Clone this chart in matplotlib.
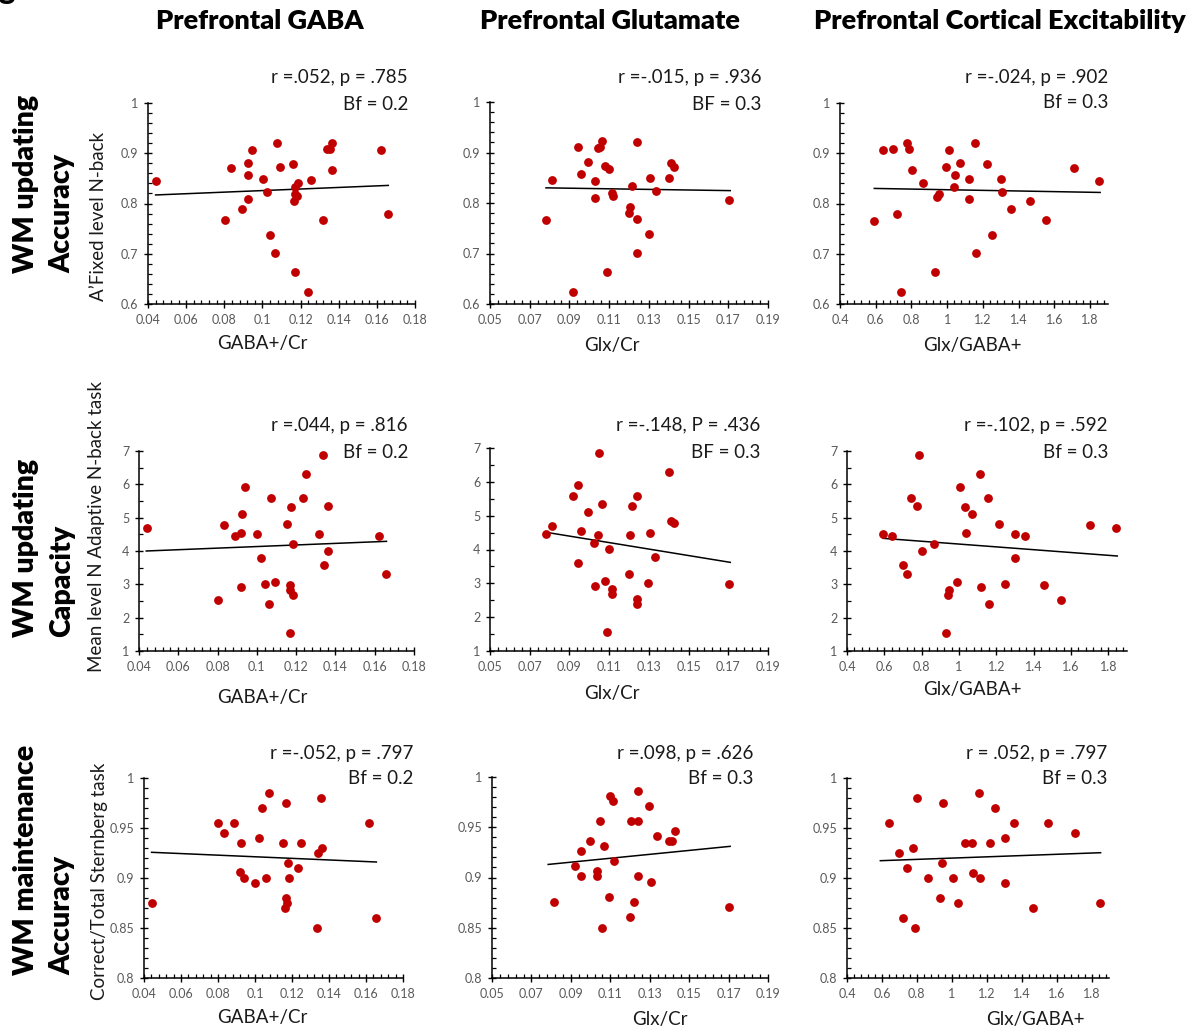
import matplotlib
matplotlib.use("Agg")
import matplotlib.pyplot as plt
from matplotlib.ticker import MultipleLocator, FuncFormatter

plt.rcParams['font.family'] = ['Lato', 'DejaVu Sans']

W, H = 1202, 1036

# ---------------- data ----------------
col_titles = ["Prefrontal GABA", "Prefrontal Glutamate", "Prefrontal Cortical Excitability"]
x_labels = ["GABA+/Cr", "Glx/Cr", "Glx/GABA+"]
y_labels = ["A\u2019Fixed level N-back", "Mean level N Adaptive N-back task", "Correct/Total Sternberg task"]
row_labels = [("WM updating", "Accuracy"), ("WM updating", "Capacity"), ("WM maintenance", "Accuracy")]

stats_line1 = [["r =.052, p = .785", "r =-.015, p = .936", "r =-.024, p = .902"],
               ["r =.044, p = .816", "r =-.148, P = .436", "r =-.102, p = .592"],
               ["r =-.052, p = .797", "r =.098, p = .626", "r = .052, p = .797"]]
stats_line2 = [["Bf = 0.2", "BF = 0.3", "Bf = 0.3"],
               ["Bf = 0.2", "BF = 0.3", "Bf = 0.3"],
               ["Bf = 0.2", "Bf = 0.3", "Bf = 0.3"]]

# Row 1: A' fixed level N-back
gaba_acc_x = [0.0444, 0.0803, 0.0835, 0.0891, 0.0923, 0.0923, 0.0926, 0.0944, 0.1005, 0.1023,
              0.1040, 0.1067, 0.1074, 0.1093, 0.1158, 0.1170, 0.1168, 0.1172, 0.1172, 0.1182,
              0.1186, 0.1237, 0.1254, 0.1319, 0.1338, 0.1352, 0.1365, 0.1365, 0.1624, 0.1658]
gaba_acc_y = [0.844, 0.768, 0.870, 0.790, 0.808, 0.856, 0.880, 0.907, 0.849, 0.823,
              0.737, 0.701, 0.920, 0.873, 0.879, 0.663, 0.804, 0.819, 0.832, 0.815,
              0.841, 0.624, 0.847, 0.767, 0.909, 0.908, 0.920, 0.866, 0.907, 0.780]
glx_acc_x = [0.0782, 0.0811, 0.0920, 0.0945, 0.0960, 0.0994, 0.1028, 0.1031, 0.1043, 0.1055,
             0.1065, 0.1078, 0.1090, 0.1098, 0.1113, 0.1117, 0.1199, 0.1206, 0.1216, 0.1239,
             0.1239, 0.1242, 0.1300, 0.1307, 0.1334, 0.1401, 0.1411, 0.1428, 0.1705]
glx_acc_y = [0.766, 0.846, 0.624, 0.910, 0.858, 0.881, 0.843, 0.809, 0.909, 0.911,
             0.922, 0.874, 0.663, 0.868, 0.819, 0.813, 0.781, 0.792, 0.834, 0.921,
             0.701, 0.769, 0.738, 0.850, 0.824, 0.849, 0.880, 0.872, 0.806]
ratio_acc_x = [0.592, 0.639, 0.699, 0.721, 0.743, 0.777, 0.786, 0.803, 0.867, 0.934,
               0.945, 0.953, 0.992, 1.009, 1.037, 1.042, 1.074, 1.121, 1.122, 1.156,
               1.163, 1.221, 1.251, 1.302, 1.305, 1.358, 1.466, 1.552, 1.712, 1.852]
ratio_acc_y = [0.766, 0.907, 0.908, 0.780, 0.624, 0.920, 0.909, 0.866, 0.841, 0.663,
               0.813, 0.819, 0.873, 0.907, 0.832, 0.856, 0.880, 0.848, 0.808, 0.920,
               0.701, 0.879, 0.737, 0.849, 0.823, 0.790, 0.804, 0.768, 0.870, 0.844]

# Row 2: mean level N adaptive N-back
gaba_cap_x = [0.0441, 0.0802, 0.0833, 0.0889, 0.0920, 0.0921, 0.0923, 0.0940, 0.1001, 0.1023,
              0.1040, 0.1064, 0.1071, 0.1091, 0.1156, 0.1167, 0.1167, 0.1167, 0.1174, 0.1183,
              0.1186, 0.1234, 0.1251, 0.1317, 0.1335, 0.1342, 0.1363, 0.1364, 0.1621, 0.1658]
gaba_cap_y = [4.68, 2.53, 4.78, 4.45, 2.91, 4.54, 5.12, 5.93, 4.50, 3.78,
              3.02, 2.40, 5.59, 3.06, 4.82, 2.98, 2.82, 1.54, 5.31, 2.68,
              4.21, 5.59, 6.31, 4.50, 6.88, 3.57, 4.01, 5.35, 4.45, 3.30]
glx_cap_x = [0.0781, 0.0811, 0.0917, 0.0944, 0.0944, 0.0959, 0.0992, 0.1026, 0.1028, 0.1043,
             0.1051, 0.1063, 0.1078, 0.1090, 0.1097, 0.1113, 0.1115, 0.1199, 0.1204, 0.1213,
             0.1238, 0.1239, 0.1239, 0.1298, 0.1305, 0.1332, 0.1399, 0.1411, 0.1428, 0.1703]
glx_cap_y = [4.47, 4.68, 5.59, 5.91, 3.59, 4.54, 5.10, 4.19, 2.91, 4.43,
             6.86, 5.34, 3.06, 1.55, 4.01, 2.82, 2.68, 3.29, 4.43, 5.29,
             5.59, 2.54, 2.39, 3.02, 4.48, 3.77, 6.30, 4.84, 4.78, 2.97]
ratio_cap_x = [0.593, 0.641, 0.700, 0.719, 0.742, 0.775, 0.785, 0.803, 0.864, 0.930,
               0.940, 0.949, 0.989, 1.005, 1.031, 1.038, 1.069, 1.115, 1.119, 1.153,
               1.162, 1.215, 1.244, 1.299, 1.299, 1.352, 1.458, 1.547, 1.704, 1.843]
ratio_cap_y = [4.50, 4.45, 3.58, 3.30, 5.58, 5.35, 6.88, 4.01, 4.20, 1.54,
               2.68, 2.82, 3.06, 5.93, 5.31, 4.54, 5.12, 6.30, 2.91, 5.58,
               2.40, 4.82, 3.02, 4.50, 3.78, 4.45, 2.97, 2.53, 4.78, 4.68]

# Row 3: Sternberg accuracy
gaba_mnt_x = [0.0441, 0.0801, 0.0834, 0.0888, 0.0918, 0.0924, 0.0938, 0.1001, 0.1019, 0.1037,
              0.1062, 0.1073, 0.1154, 0.1165, 0.1165, 0.1172, 0.1163, 0.1179, 0.1186, 0.1231,
              0.1249, 0.1336, 0.1341, 0.1361, 0.1359, 0.1617, 0.1656]
gaba_mnt_y = [0.875, 0.955, 0.945, 0.955, 0.906, 0.935, 0.900, 0.895, 0.940, 0.970,
              0.900, 0.985, 0.935, 0.975, 0.880, 0.875, 0.870, 0.915, 0.900, 0.910,
              0.935, 0.850, 0.925, 0.930, 0.980, 0.955, 0.860]
glx_mnt_x = [0.0817, 0.0922, 0.0949, 0.0951, 0.0995, 0.1032, 0.1032, 0.1046, 0.1056, 0.1066,
             0.1093, 0.1100, 0.1114, 0.1119, 0.1200, 0.1205, 0.1220, 0.1241, 0.1242, 0.1241,
             0.1297, 0.1307, 0.1336, 0.1400, 0.1412, 0.1427, 0.1703]
glx_mnt_y = [0.876, 0.911, 0.926, 0.901, 0.936, 0.906, 0.901, 0.956, 0.850, 0.931,
             0.881, 0.981, 0.976, 0.916, 0.861, 0.956, 0.876, 0.986, 0.956, 0.901,
             0.971, 0.896, 0.941, 0.936, 0.936, 0.946, 0.871]
ratio_mnt_x = [0.639, 0.700, 0.721, 0.744, 0.776, 0.788, 0.803, 0.866, 0.931, 0.944,
               0.952, 1.007, 1.036, 1.074, 1.118, 1.120, 1.154, 1.162, 1.219, 1.246,
               1.303, 1.303, 1.357, 1.464, 1.548, 1.708, 1.850]
ratio_mnt_y = [0.955, 0.925, 0.860, 0.910, 0.930, 0.850, 0.980, 0.900, 0.880, 0.915,
               0.975, 0.900, 0.875, 0.935, 0.935, 0.905, 0.985, 0.900, 0.935, 0.970,
               0.940, 0.895, 0.955, 0.870, 0.955, 0.945, 0.875]

# linear trend lines (endpoints)
trend_x = [[[0.0440, 0.1660], [0.0782, 0.1710], [0.592, 1.856]],
           [[0.0437, 0.1660], [0.0781, 0.1710], [0.593, 1.848]],
           [[0.0441, 0.1656], [0.0785, 0.1708], [0.591, 1.852]]]
trend_y = [[[0.817, 0.836], [0.830, 0.8245], [0.830, 0.822]],
           [[4.00, 4.29], [4.51, 3.62], [4.38, 3.85]],
           [[0.9257, 0.916], [0.913, 0.931], [0.9173, 0.9253]]]

series_x = [[gaba_acc_x, glx_acc_x, ratio_acc_x],
            [gaba_cap_x, glx_cap_x, ratio_cap_x],
            [gaba_mnt_x, glx_mnt_x, ratio_mnt_x]]
series_y = [[gaba_acc_y, glx_acc_y, ratio_acc_y],
            [gaba_cap_y, glx_cap_y, ratio_cap_y],
            [gaba_mnt_y, glx_mnt_y, ratio_mnt_y]]

# axis settings
x_lims = [(0.04, 0.18), (0.05, 0.19), (0.4, 1.9)]
x_major = [(0.02, 0.0), (0.02, 0.01), (0.2, 0.0)]
x_minor = [(0.004, 0.0), (0.004, 0.002), (0.04, 0.0)]
y_lims = [(0.6, 1.0), (1, 7), (0.8, 1.0)]
y_major = [0.1, 1, 0.05]
y_minor = [0.02, 0.5, 0.01]

# ---------------- layout (pixel positions) ----------------
# (x0, x1, ytop, ybottom) of each axes box
boxes = [[(148, 415, 103, 304), (490, 768, 102, 304), (840, 1108, 103, 304)],
         [(139, 414, 451, 651), (490, 768, 448, 651), (847, 1127, 451, 651)],
         [(144, 403, 778, 978), (492, 768, 777, 978), (847, 1109, 778, 978)]]
stat_pos = [[(408, 78, 105), (761, 78, 104), (1108, 78, 103)],
            [(408, 425, 452), (760, 425, 452), (1108, 425, 452)],
            [(413, 753, 778), (753, 753, 778), (1107, 753, 778)]]
xlabel_pos = [[(262, 343), (612, 345), (972, 345)],
              [(262, 698), (612, 693), (972, 690)],
              [(262, 1018), (660, 1020), (1035, 1020)]]
ylabel_pos = [(98, 216), (97, 526), (99, 881)]
rowlabel_pos = [(26, 62, 273), (26, 62, 637), (26, 62, 975)]
title_pos = [(260, 21), (610, 21), (1000, 21)]

RED = '#C00000'
TICKC = '#595959'
TXT = '#1a1a1a'


def fx(x):
    return x / W


def fy(y):
    return 1 - y / H


def fmt(v, pos):
    return f"{round(v, 6):g}"


fig = plt.figure(figsize=(W / 100, H / 100), dpi=100)

for r in range(3):
    for c in range(3):
        x0, x1, yt, yb = boxes[r][c]
        ax = fig.add_axes([fx(x0), fy(yb), (x1 - x0) / W, (yb - yt) / H])
        ax.scatter(series_x[r][c], series_y[r][c], s=40, color=RED, zorder=3,
                   linewidths=0, clip_on=False)
        ax.plot(trend_x[r][c], trend_y[r][c], color='black', lw=1.1, zorder=2)
        ax.set_xlim(*x_lims[c])
        ax.set_ylim(*y_lims[r])
        ax.xaxis.set_major_locator(MultipleLocator(x_major[c][0], offset=x_major[c][1]))
        ax.xaxis.set_minor_locator(MultipleLocator(x_minor[c][0], offset=x_minor[c][1]))
        ax.yaxis.set_major_locator(MultipleLocator(y_major[r]))
        ax.yaxis.set_minor_locator(MultipleLocator(y_minor[r]))
        ax.xaxis.set_major_formatter(FuncFormatter(fmt))
        ax.yaxis.set_major_formatter(FuncFormatter(fmt))
        for s in ['top', 'right']:
            ax.spines[s].set_visible(False)
        for s in ['left', 'bottom']:
            ax.spines[s].set_color('black')
            ax.spines[s].set_linewidth(1.1)
        ax.tick_params(which='major', direction='inout', length=6, width=1.0,
                       color='black', labelsize=9, labelcolor=TICKC, pad=4)
        ax.tick_params(which='minor', direction='in', length=3, width=0.9, color='black')
        ax.patch.set_alpha(0)

        sx, sy1, sy2 = stat_pos[r][c]
        fig.text(fx(sx), fy(sy1), stats_line1[r][c], ha='right', va='center',
                 fontsize=13.5, color=TXT)
        fig.text(fx(sx), fy(sy2), stats_line2[r][c], ha='right', va='center',
                 fontsize=13.5, color=TXT)
        lx, ly = xlabel_pos[r][c]
        fig.text(fx(lx), fy(ly), x_labels[c], ha='center', va='center',
                 fontsize=13.5, color=TXT)

    yx, yy = ylabel_pos[r]
    fig.text(fx(yx), fy(yy), y_labels[r], rotation=90, ha='center', va='center',
             fontsize=13.5, color=TXT)
    x1r, x2r, yb = rowlabel_pos[r]
    fig.text(fx(x1r), fy(yb), row_labels[r][0], rotation=90, ha='center', va='bottom',
             fontsize=20.5, fontweight='heavy', color='black')
    fig.text(fx(x2r), fy(yb), row_labels[r][1], rotation=90, ha='center', va='bottom',
             fontsize=20.5, fontweight='heavy', color='black')

for c in range(3):
    tx, ty = title_pos[c]
    fig.text(fx(tx), fy(ty), col_titles[c], ha='center', va='center',
             fontsize=19.5, fontweight='heavy', color='black')

# partially visible panel letter at top-left corner
fig.text(fx(-2), fy(-1), "g", ha='left', va='baseline', fontsize=22,
         fontweight='heavy', color='black')

fig.savefig('out.png', dpi=100)
